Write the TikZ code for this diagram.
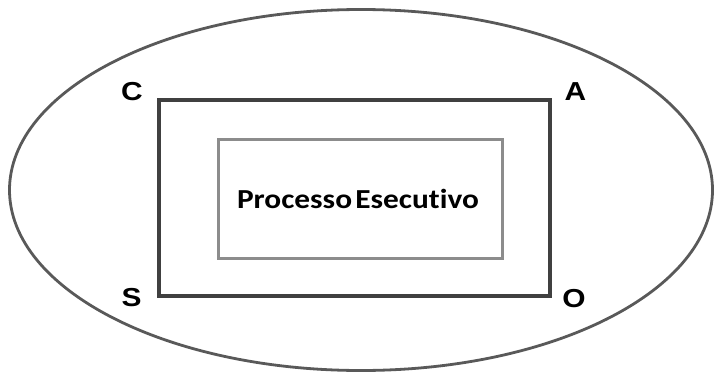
\documentclass[tikz,border=0pt]{standalone}
\usepackage{fontspec}
\usetikzlibrary{shapes.geometric}
\setmainfont{Liberation Sans}
\newfontfamily\carlito[Ligatures=NoCommon]{Carlito}
\begin{document}
\begin{tikzpicture}[x=1pt,y=-1pt,
  outerell/.style={draw=black!65, line width=2.8pt},
  outerbox/.style={draw=black!75, line width=3.2pt},
  innerbox/.style={draw=black!45, line width=3pt},
  cornerlbl/.style={font=\fontsize{26}{26}\selectfont\bfseries, text=black, inner sep=0pt},
  maintext/.style={font=\carlito\fontsize{27.5}{28}\selectfont\bfseries, text=black, inner sep=0pt}]
\useasboundingbox (0,0) rectangle (714,372);
\node[outerell, ellipse, minimum width=703pt, minimum height=361pt, inner sep=0pt] (ell) at (361,190) {};
\node[outerbox, rectangle, minimum width=391pt, minimum height=196pt, inner sep=0pt] (obox) at (354.5,198) {};
\node[innerbox, rectangle, minimum width=284pt, minimum height=119pt, inner sep=0pt] (ibox) at (360,198.5) {};
\node[maintext] (txt) at (358,199) {\scalebox{1.14}[1]{Processo\hspace{-0.12em} Esecutivo}};
\node[cornerlbl] (c) at (132,91.5) {\scalebox{1.15}[1]{C}};
\node[cornerlbl] (a) at (575.5,91.5) {\scalebox{1.15}[1]{A}};
\node[cornerlbl] (s) at (131.5,297.5) {\scalebox{1.15}[1]{S}};
\node[cornerlbl] (o) at (574,298.5) {\scalebox{1.15}[1]{O}};
\end{tikzpicture}
\end{document}
